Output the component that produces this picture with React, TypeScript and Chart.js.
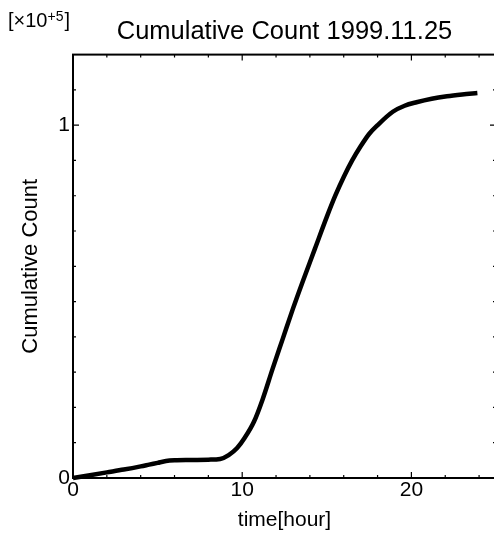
import React, { useEffect, useRef } from "react";
import { Chart, registerables } from "chart.js";

Chart.register(...registerables);

// time in hours
const hours = [0, 1, 2, 3, 4, 4.5, 5, 5.5, 6, 7, 8, 8.7, 9.2, 9.7, 10.15, 10.7, 11.2, 11.8, 12.4, 13.0, 13.6, 14.3, 15.0, 15.5, 16.0, 16.5, 17.0, 17.5, 18.0, 18.9, 19.6, 20.3, 21.2, 22.1, 23.0, 23.9];
// cumulative count in units of 10^5
const counts = [0, 0.008, 0.016, 0.024, 0.033, 0.038, 0.043, 0.048, 0.05, 0.051, 0.052, 0.054, 0.065, 0.085, 0.114, 0.16, 0.222, 0.31, 0.395, 0.48, 0.56, 0.65, 0.74, 0.8, 0.853, 0.9, 0.94, 0.975, 1.0, 1.038, 1.055, 1.065, 1.075, 1.082, 1.087, 1.091];

const xTickValues = [0, 2, 4, 6, 8, 10, 12, 14, 16, 18, 20, 22, 24];
const xTickLabels = ["0", "", "", "", "", "10", "", "", "", "", "20", "", ""];
const yTickValues = [0, 0.1, 0.2, 0.3, 0.4, 0.5, 0.6, 0.7, 0.8, 0.9, 1.0, 1.1];
const yTickLabels = ["0", "", "", "", "", "", "", "", "", "", "1", ""];

const FONT = "'Liberation Sans', Arial, Helvetica, sans-serif";

const framePlugin = {
  id: "frameTicks",
  afterDraw(chart: any) {
    const { ctx, chartArea } = chart;
    const { left, right, top, bottom } = chartArea;
    const xs = chart.scales.x;
    const ys = chart.scales.y;
    ctx.save();
    ctx.strokeStyle = "#000";
    ctx.lineWidth = 2;
    ctx.strokeRect(left, top, right - left, bottom - top);
    ctx.lineWidth = 1.2;
    ctx.beginPath();
    xTickValues.forEach((v) => {
      const px = xs.getPixelForValue(v);
      const len = v % 10 === 0 ? 6 : 3;
      ctx.moveTo(px, bottom);
      ctx.lineTo(px, bottom - len);
      ctx.moveTo(px, top);
      ctx.lineTo(px, top + len);
    });
    yTickValues.forEach((v, i) => {
      const py = ys.getPixelForValue(v);
      const len = i % 10 === 0 ? 6 : 3;
      ctx.moveTo(left, py);
      ctx.lineTo(left + len, py);
      ctx.moveTo(right, py);
      ctx.lineTo(right - len, py);
    });
    ctx.stroke();

    // multiplier label
    ctx.fillStyle = "#000";
    ctx.textBaseline = "alphabetic";
    ctx.textAlign = "left";
    ctx.font = `20px ${FONT}`;
    let x = 8;
    const base = "[\u00d710";
    ctx.fillText(base, x, 27);
    x += ctx.measureText(base).width;
    ctx.font = `14px ${FONT}`;
    ctx.fillText("+5", x, 21);
    x += ctx.measureText("+5").width + 1;
    ctx.font = `20px ${FONT}`;
    ctx.fillText("]", x, 27);
    ctx.restore();
  },
};

export default function App() {
  const ref = useRef<HTMLCanvasElement | null>(null);
  useEffect(() => {
    document.body.style.margin = "0";
    document.body.style.overflow = "hidden";
    document.documentElement.style.overflow = "hidden";
    const canvas = ref.current;
    if (!canvas) return;
    const chart = new Chart(canvas, {
      type: "line",
      data: {
        datasets: [
          {
            data: hours.map((h, i) => ({ x: h, y: counts[i] })),
            borderColor: "#000",
            borderWidth: 4.5,
            pointRadius: 0,
            fill: false,
            tension: 0.4,
            cubicInterpolationMode: "monotone",
            clip: false as any,
          },
        ],
      },
      options: {
        responsive: false,
        animation: false,
        layout: { padding: { left: 0, right: 4, top: 0, bottom: 0 } },
        plugins: {
          legend: { display: false },
          tooltip: { enabled: false },
          title: {
            display: true,
            text: "Cumulative Count 1999.11.25",
            color: "#000",
            fullSize: false,
            font: { family: FONT, size: 25.5, weight: "normal", lineHeight: 1.2 },
            padding: { top: 17, bottom: 7 },
          },
        },
        scales: {
          x: {
            type: "linear",
            min: 0,
            max: 25,
            grid: { display: false, drawTicks: false },
            border: { display: false },
            afterBuildTicks: (scale: any) => {
              scale.ticks = xTickValues.map((v) => ({ value: v }));
            },
            afterFit: (scale: any) => {
              scale.height = 55;
            },
            ticks: {
              autoSkip: false,
              maxRotation: 0,
              padding: 0,
              color: "#000",
              font: { family: FONT, size: 21 },
              callback: (_v: any, i: number) => xTickLabels[i],
            },
            title: {
              display: true,
              text: "time[hour]",
              color: "#000",
              font: { family: FONT, size: 21 },
              padding: { top: 0, bottom: 0 },
            },
          },
          y: {
            type: "linear",
            min: 0,
            max: 1.2,
            grid: { display: false, drawTicks: false },
            border: { display: false },
            afterBuildTicks: (scale: any) => {
              scale.ticks = yTickValues.map((v) => ({ value: v }));
            },
            afterFit: (scale: any) => {
              scale.width = 73;
            },
            ticks: {
              autoSkip: false,
              padding: 3,
              color: "#000",
              font: { family: FONT, size: 21 },
              callback: (_v: any, i: number) => yTickLabels[i],
            },
            title: {
              display: true,
              text: "Cumulative Count",
              color: "#000",
              font: { family: FONT, size: 22 },
              padding: { top: 18, bottom: 0 },
            },
          },
        },
      },
      plugins: [framePlugin],
    });
    return () => chart.destroy();
  }, []);
  return (
    <canvas
      ref={ref}
      width={500}
      height={533}
      style={{ display: "block", width: "500px", height: "533px" }}
    />
  );
}
